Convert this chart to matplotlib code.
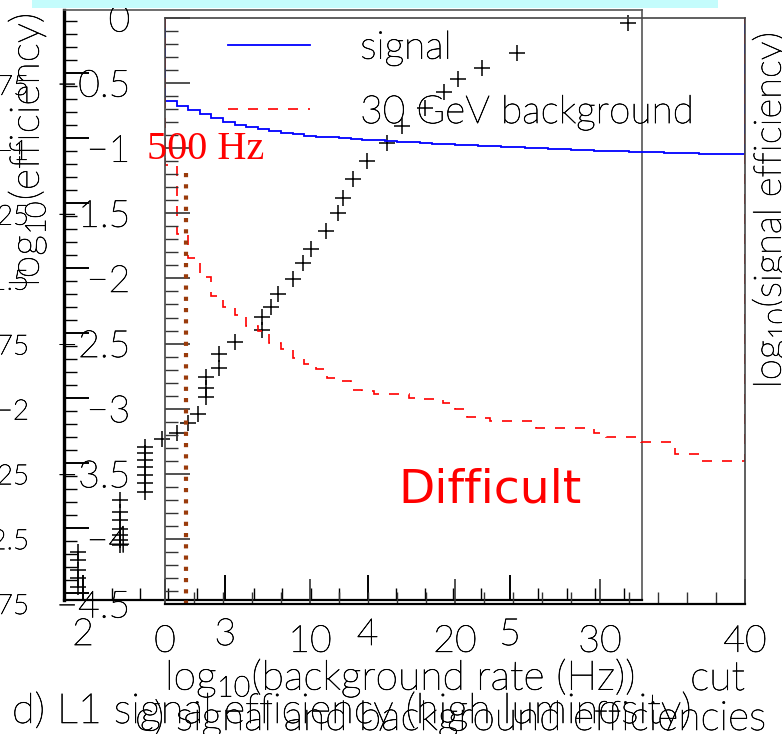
import numpy as np
import matplotlib
matplotlib.use("Agg")
import matplotlib.pyplot as plt
import matplotlib.patheffects as pe
from matplotlib.text import Text
from matplotlib.patches import Rectangle
from matplotlib.lines import Line2D
from matplotlib.ticker import MultipleLocator, FuncFormatter

plt.rcParams['font.family'] = ['Lato', 'DejaVu Sans']
plt.rcParams['font.weight'] = 'light'

# ---- c) signal and background efficiencies vs cut (50 bins from 0 to 40)
cut_range = (0, 40)
n_bins = 50
signal_eff = [-0.637, -0.676, -0.707, -0.737, -0.768, -0.799, -0.822, -0.837, -0.853, -0.868,
              -0.883, -0.891, -0.906, -0.914, -0.914, -0.922, -0.929, -0.937, -0.937, -0.945,
              -0.952, -0.952, -0.960, -0.968, -0.968, -0.975, -0.975, -0.983, -0.983, -0.991,
              -0.991, -0.998, -0.998, -1.006, -1.006, -1.014, -1.014, -1.021, -1.021, -1.021,
              -1.029, -1.029, -1.029, -1.037, -1.037, -1.037, -1.045, -1.045, -1.045, -1.045]
bkg_eff = [-1.129, -1.659, -1.843, -1.989, -2.135, -2.220, -2.281, -2.366, -2.404, -2.496,
           -2.542, -2.611, -2.657, -2.696, -2.765, -2.788, -2.857, -2.865, -2.888, -2.888,
           -2.888, -2.919, -2.926, -2.926, -2.957, -3.003, -3.065, -3.072, -3.095, -3.095,
           -3.095, -3.095, -3.149, -3.149, -3.149, -3.149, -3.149, -3.187, -3.218, -3.218,
           -3.218, -3.257, -3.257, -3.257, -3.349, -3.349, -3.402, -3.402, -3.402, -3.402]
cut_500hz = 1.48
eff_500hz_top = -1.19

# ---- d) L1 signal efficiency vs background rate (high luminosity)
rate_log = [1.965, 1.965, 1.965, 1.965, 1.965,
            2.26, 2.26, 2.26, 2.26, 2.26, 2.26, 2.26,
            2.436, 2.436, 2.436, 2.436, 2.436, 2.436, 2.436,
            2.555, 2.661, 2.738, 2.808, 2.864, 2.864, 2.864, 2.956, 2.956, 3.068,
            3.258, 3.258, 3.321, 3.37, 3.476, 3.546, 3.602, 3.708, 3.792, 3.827,
            3.897, 3.996, 4.136, 4.242, 4.403, 4.537, 4.635, 4.804, 5.05, 5.83]
eff_log = [-2.592, -2.623, -2.662, -2.692, -2.727,
           -2.392, -2.438, -2.469, -2.504, -2.527, -2.546, -2.565,
           -2.188, -2.212, -2.238, -2.265, -2.296, -2.327, -2.362,
           -2.158, -2.135, -2.096, -2.062, -1.996, -1.962, -1.919, -1.885, -1.831, -1.785,
           -1.738, -1.688, -1.65, -1.6, -1.542, -1.481, -1.427, -1.358, -1.288, -1.231,
           -1.158, -1.088, -1.019, -0.954, -0.885, -0.823, -0.773, -0.731, -0.673, -0.558]

# labels of the third plot hidden underneath
hidden_ticks = [-0.75, -1.0, -1.25, -1.5, -1.75, -2.0, -2.25, -2.5, -2.75]
hidden_labels = ['\u22120.75', '\u22121', '\u22121.25', '\u22121.5',
                 '\u22121.75', '\u22122', '\u22122.25', '\u22122.5', '\u22122.75']

W, H = 782, 734
fig = plt.figure(figsize=(W / 100, H / 100), dpi=100)


def box(x0, y0, x1, y1):
    return [x0 / W, 1 - y1 / H, (x1 - x0) / W, (y1 - y0) / H]


def minus(v, pos):
    return f'{v:g}'.replace('-', '\u2212')


fig.patches.append(Rectangle((32 / W, 1 - 8 / H), 686 / W, 8 / H, transform=fig.transFigure,
                             facecolor='#c4fcfc', edgecolor='none'))

# back plot (d)
ax_b = fig.add_axes(box(64, 10, 642, 600))
ax_b.plot(rate_log, eff_log, '+', color='black', ms=11, mew=1.1)
ax_b.set_xlim(1.866, 5.928)
ax_b.set_ylim(-2.777, -0.508)
ax_b.xaxis.set_major_locator(MultipleLocator(1))
ax_b.xaxis.set_minor_locator(MultipleLocator(0.2))
ax_b.yaxis.set_major_locator(MultipleLocator(0.25))
ax_b.yaxis.set_minor_locator(MultipleLocator(0.05))
ax_b.tick_params(which='both', direction='in', top=False, right=False, labelleft=False,
                 labelsize=27, pad=13)
ax_b.tick_params(which='major', length=18, width=1.4)
ax_b.tick_params(which='minor', length=9, width=1.0)
for s in ['top', 'right']:
    ax_b.spines[s].set_color('#555555')
    ax_b.spines[s].set_linewidth(1.2)
ax_b.spines['left'].set_linewidth(2.4)
ax_b.spines['bottom'].set_linewidth(1.6)

# third plot, only its labels show
ax_l = fig.add_axes(box(36, 20, 37, 604))
ax_l.set_ylim(-2.75, -0.5)
ax_l.set_yticks(hidden_ticks)
ax_l.set_yticklabels(hidden_labels)
ax_l.set_xticks([])
ax_l.tick_params(axis='y', length=0, pad=5, labelsize=20)
ax_l.patch.set_visible(False)
for s in ax_l.spines.values():
    s.set_visible(False)

# front plot (c)
ax_f = fig.add_axes(box(165, 18, 745, 604))
ax_f.patch.set_visible(False)
edges = np.linspace(cut_range[0], cut_range[1], n_bins + 1)
ax_f.stairs(signal_eff, edges, baseline=0, color='#0000ff', lw=1.3)
ax_f.stairs(bkg_eff, edges, baseline=0, color='#ff0000', lw=1.2, linestyle=(0, (6, 6)))
ax_f.plot([cut_500hz, cut_500hz], [eff_500hz_top, -4.5], color='#9a3b0b', lw=3,
          linestyle=(0, (1, 1.7)), dash_capstyle='butt', clip_on=False)
ax_f.set_xlim(*cut_range)
ax_f.set_ylim(-4.5, 0)
ax_f.xaxis.set_major_locator(MultipleLocator(10))
ax_f.xaxis.set_minor_locator(MultipleLocator(2))
ax_f.yaxis.set_major_locator(MultipleLocator(0.5))
ax_f.yaxis.set_minor_locator(MultipleLocator(0.1))
ax_f.yaxis.set_major_formatter(FuncFormatter(minus))
ax_f.tick_params(which='both', direction='in', top=False, right=False, labelsize=27)
ax_f.tick_params(axis='x', pad=15)
ax_f.tick_params(axis='y', pad=25)
ax_f.tick_params(which='major', length=18, width=1.2, color='#333333')
ax_f.tick_params(which='minor', length=9, width=1.0, color='#333333')
for s in ax_f.spines.values():
    s.set_color('#444444')
    s.set_linewidth(1.2)
ax_f.spines['bottom'].set_color('black')
ax_f.spines['bottom'].set_linewidth(1.6)

handles = [Line2D([], [], color='#0000ff', lw=1.3),
           Line2D([], [], color='#ff0000', lw=1.2, linestyle=(0, (6, 6)))]
ax_f.legend(handles, ['signal', '30 GeV background'], loc='upper left',
            bbox_to_anchor=(0.1086, 0.980), frameon=False, fontsize=28,
            handlelength=2.11, handletextpad=1.29, labelspacing=0.73,
            borderpad=0, borderaxespad=0)

fig.text(165 / W, 1 - 690 / H, r'log$_{\mathregular{10}}$(background rate (Hz))',
         fontsize=29.5, ha='left', va='baseline')
fig.text(745 / W, 1 - 690 / H, 'cut', fontsize=29.5, ha='right', va='baseline')
fig.text(12 / W, 1 - 723 / H, 'd) L1 signal efficiency (high luminosity)',
         fontsize=30, ha='left', va='baseline')
fig.text(135 / W, 1 - 730 / H, 'c) signal and background efficiencies',
         fontsize=29.4, ha='left', va='baseline')
fig.text(27 / W, 1 - 150 / H, r'log$_{\mathregular{10}}$(efficiency)', fontsize=29.5,
         rotation=90, ha='center', va='center')
fig.text(770 / W, 1 - 210 / H, r'log$_{\mathregular{10}}$(signal efficiency)', fontsize=27.5,
         rotation=90, ha='center', va='center')

# darken the thin black lettering a little
fig.canvas.draw()
for t in fig.findobj(Text):
    t.set_path_effects([pe.withStroke(linewidth=0.45, foreground='black')])

ax_f.text(-1.24, -1.01, '500 Hz', family=['Liberation Serif', 'DejaVu Serif'],
          weight='normal', color='red', fontsize=29, ha='left', va='center', clip_on=False)
ax_f.text(22.4, -3.625, 'Difficult', family='DejaVu Sans', weight='normal',
          color='red', fontsize=34, ha='center', va='center')

fig.savefig('out.png', dpi=100, facecolor='white')
